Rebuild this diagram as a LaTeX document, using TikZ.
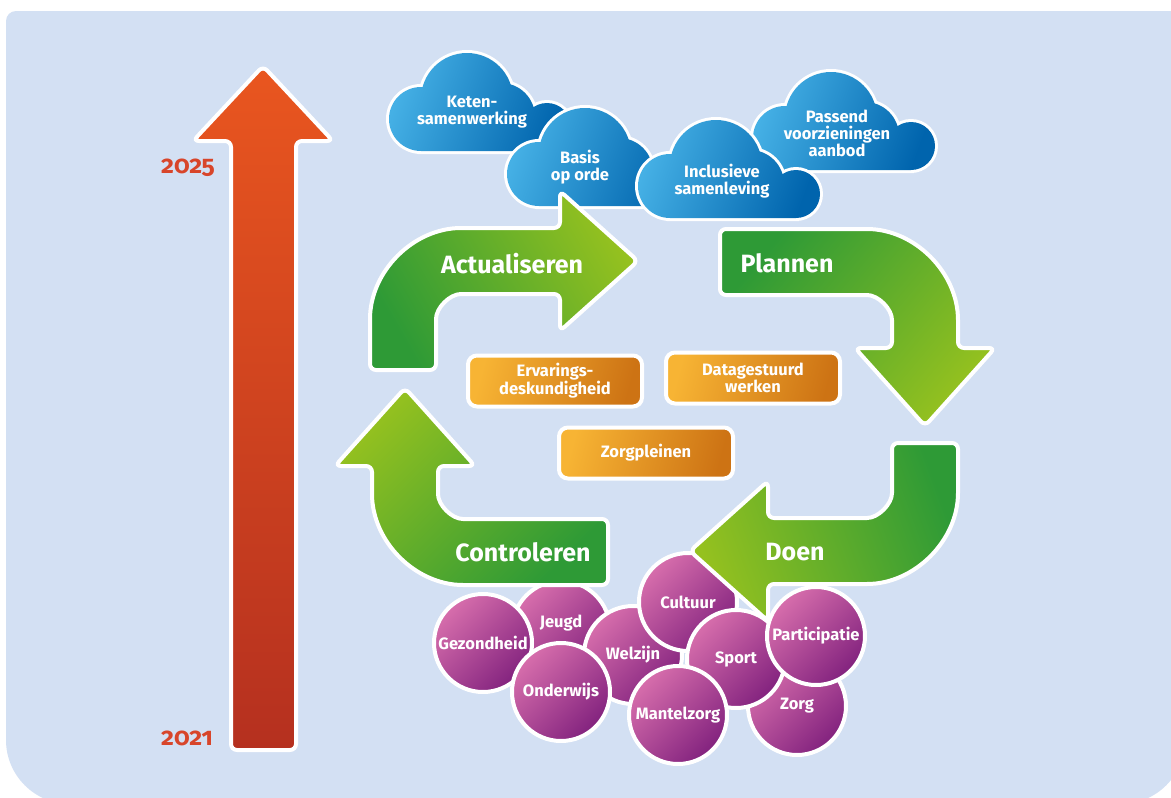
\documentclass[tikz,border=0pt]{standalone}
\usepackage{fontspec}
\setmainfont{Fira Sans}
\newfontfamily\yearfont{Fira Sans}[Numbers=OldStyle]
\definecolor{bgblue}{HTML}{D3E0F3}
\definecolor{redtop}{HTML}{E9561F}
\definecolor{redbot}{HTML}{B5301F}
\definecolor{gdark}{HTML}{2E9A36}
\definecolor{glight}{HTML}{95C11F}
\definecolor{blight}{HTML}{45B0E5}
\definecolor{bdark}{HTML}{0064AD}
\definecolor{olight}{HTML}{F7B434}
\definecolor{odark}{HTML}{CD7314}
\definecolor{plight}{HTML}{D76EAC}
\definecolor{pdark}{HTML}{82227E}
\definecolor{yearred}{HTML}{D8452A}
\tikzset{
  garrow/.style={draw=white, line width=4pt, rounded corners=6pt, top color=glight, bottom color=gdark},
  biglab/.style={text=white, font=\bfseries\fontsize{25}{29}\selectfont},
  smalllab/.style={text=white, align=center, font=\bfseries\fontsize{16.5}{17}\selectfont},
  bubble/.style={circle, draw=white, line width=4pt, top color=plight, bottom color=pdark, shading angle=45,
    minimum size=98pt, inner sep=0pt, text=white, font=\bfseries\fontsize{16.5}{17}\selectfont},
  obox/.style={rectangle, rounded corners=9pt, draw=white, line width=4pt, top color=olight, bottom color=odark,
    shading angle=75, minimum width=174pt, minimum height=51pt, inner sep=0pt, text=white, align=center,
    font=\bfseries\fontsize{16.5}{17}\selectfont},
  cloudfill/.style={top color=blight, bottom color=bdark, shading angle=70},
  yearlab/.style={text=yearred, anchor=base, font=\yearfont\bfseries\fontsize{25}{28}\selectfont},
}
\newcommand\drawcloud[2]{%
  \path[fill=white, draw=white, line width=6pt]
    (#1+32,#2+66) circle[radius=32] (#1+78,#2+46) circle[radius=46]
    (#1+112,#2+64) circle[radius=34] (#1+158,#2+74) circle[radius=24]
    (#1+158,#2+58) rectangle (#1+32,#2+98);
  \shade[cloudfill]
    (#1+32,#2+66) circle[radius=32] (#1+78,#2+46) circle[radius=46]
    (#1+112,#2+64) circle[radius=34] (#1+158,#2+74) circle[radius=24]
    (#1+158,#2+58) rectangle (#1+32,#2+98);
}
\begin{document}
\begin{tikzpicture}[x=1pt, y=-1pt]
\useasboundingbox (0,0) rectangle (1171,798);
\clip (0,0) rectangle (1171,798);
\fill[white] (0,0) rectangle (1171,798);
% background panel
\fill[bgblue] (6,21) arc[start angle=180, end angle=270, radius=10] -- (1185,11) -- (1185,740)
  arc[start angle=0, end angle=90, radius=64] -- (70,804) arc[start angle=90, end angle=180, radius=64] -- cycle;
% red time arrow
\shadedraw[draw=white, line width=4pt, rounded corners=6pt, top color=redtop, bottom color=redbot]
  (231,750) -- (231,141) -- (193,141) -- (263,66) -- (333,141) -- (296,141) -- (296,750) -- cycle;
\node[yearlab] (y2025) at (188,173) {2025};
\node[yearlab] (y2021) at (187,745) {2021};
% clouds
\drawcloud{389}{53}
\node[smalllab] (keten) at (472,112) {Keten-\\samenwerking};
\drawcloud{753}{72}
\node[smalllab] (passend) at (837,133) {Passend\\voorzieningen\\aanbod};
\drawcloud{507}{108}
\node[smalllab] (basis) at (580,167) {Basis\\op orde};
\drawcloud{638}{120}
\node[smalllab] (inclusief) at (722,181) {Inclusieve\\samenleving};
% Actualiseren
\shadedraw[garrow, shading angle=-60] (370,370) -- (370,325) arc[start angle=180, end angle=270, radius=97]
  -- (560,228) -- (560,191) -- (638,261) -- (560,331) -- (560,294) -- (467,294)
  arc[start angle=270, end angle=180, radius=31] -- (436,370) -- cycle;
\node[biglab] (actualiseren) at (512,264) {Actualiseren};
% Plannen
\shadedraw[garrow, shading angle=-130] (720,229) -- (861,229) arc[start angle=270, end angle=360, radius=97]
  -- (958,348) -- (995,348) -- (925,426) -- (855,348) -- (892,348) -- (892,326)
  arc[start angle=0, end angle=-90, radius=31] -- (720,295) -- cycle;
\node[biglab] (plannen) at (787,263) {Plannen};
% orange boxes
\node[obox] (ervaring) at (555,381) {Ervarings-\\deskundigheid};
\node[obox] (data) at (753,378) {Datagestuurd\\werken};
\node[obox] (zorgpleinen) at (646,453) {Zorgpleinen};
% bubbles and lower arrows
\node[bubble] (jeugd) at (561,630) {\raisebox{18pt}{Jeugd}};
\shadedraw[garrow, shading angle=45] (608,585) -- (469,585) arc[start angle=90, end angle=180, radius=97]
  -- (372,466) -- (335,466) -- (405,388) -- (475,466) -- (438,466) -- (438,488)
  arc[start angle=180, end angle=90, radius=31] -- (608,519) -- cycle;
\node[biglab] (controleren) at (523,552) {Controleren};
\node[bubble] (gezondheid) at (483,643) {Gezondheid};
\node[bubble] (welzijn) at (633,655) {Welzijn};
\node[bubble] (onderwijs) at (561,692) {Onderwijs};
\node[bubble] (zorg) at (797,706) {Zorg};
\node[bubble] (cultuur) at (688,602) {Cultuur};
\shadedraw[garrow, shading angle=110] (892,443) -- (958,443) -- (958,487) arc[start angle=0, end angle=90, radius=97]
  -- (768,584) -- (768,621) -- (690,551) -- (768,481) -- (768,518) -- (861,518)
  arc[start angle=90, end angle=0, radius=31] -- cycle;
\node[biglab] (doen) at (795,552) {Doen};
\node[bubble] (sport) at (736,659) {Sport};
\node[bubble] (mantelzorg) at (678,715) {Mantelzorg};
\node[bubble] (participatie) at (816,636) {Participatie};
\end{tikzpicture}
\end{document}
